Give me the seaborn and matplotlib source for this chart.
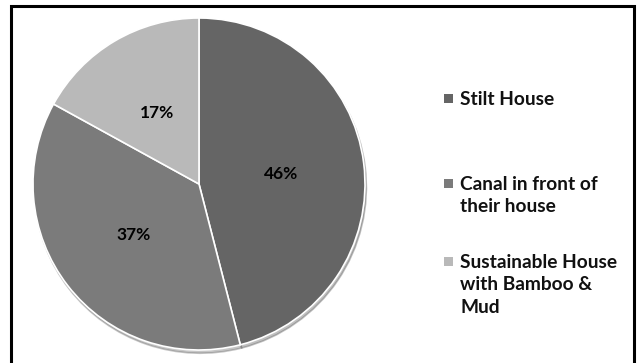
import matplotlib
matplotlib.use("Agg")
import matplotlib.pyplot as plt
from matplotlib.patches import Rectangle
import seaborn as sns

# Data
labels = ["Stilt House", "Canal in front of\ntheir house", "Sustainable House\nwith Bamboo &\nMud"]
shares = [46, 37, 17]
colors = ["#656565", "#7b7b7b", "#b9b9b9"]

sns.set_style("white")
plt.rcParams["font.family"] = ["Lato", "DejaVu Sans"]

W, H = 637, 363
fig = plt.figure(figsize=(W / 100, H / 100), dpi=100)

# pie axes: centre (199,184) px, radius 166 px
cx, cy, r = 199, 184, 166
ax = fig.add_axes([(cx - r) / W, (H - cy - r) / H, 2 * r / W, 2 * r / H])
wedges, texts, autotexts = ax.pie(
    shares, colors=colors, startangle=90, counterclock=False,
    autopct="%d%%", pctdistance=0.5,
    wedgeprops=dict(edgecolor="white", linewidth=1.2),
    textprops=dict(fontsize=12.5, fontweight="bold", color="black"),
    shadow=dict(ox=0.006, oy=-0.014, shade=0.25, alpha=0.35),
)
ax.set_xlim(-1, 1)
ax.set_ylim(-1, 1)
ax.set_aspect("equal")

# legend, drawn by hand to follow the uneven spacing of the original
legend_top = [91, 176, 254]
for lab, col, y in zip(labels, colors, legend_top):
    fig.patches.append(Rectangle((444 / W, 1 - (y + 12) / H), 9 / W, 9 / H,
                                 transform=fig.transFigure, facecolor=col,
                                 edgecolor="none"))
    fig.text(460 / W, 1 - y / H, lab, fontsize=13.8, fontweight="bold",
             va="top", ha="left", linespacing=1.38, color="#111111")

# outer frame
fig.patches.append(Rectangle((11 / W, -0.05), 623 / W, 1.05 - 6 / H,
                             transform=fig.transFigure, fill=False,
                             edgecolor="black", linewidth=2.2))

plt.savefig("out.png", dpi=100)
